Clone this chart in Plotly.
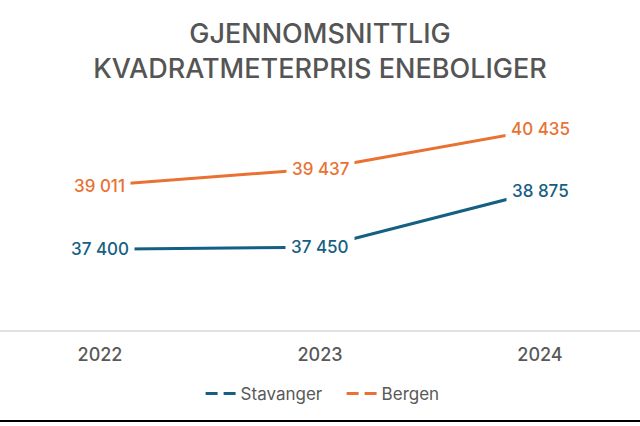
import plotly.graph_objects as go

years = ["2022", "2023", "2024"]
stavanger = [37400, 37450, 38875]
bergen = [39011, 39437, 40435]
series_names = ["Stavanger", "Bergen"]
colors = {"Stavanger": "#156082", "Bergen": "#E97132"}
title_text = "GJENNOMSNITTLIG<br>KVADRATMETERPRIS ENEBOLIGER"

data = {"Stavanger": stavanger, "Bergen": bergen}

fig = go.Figure()
annotations = []
for name in series_names:
    vals = data[name]
    fig.add_trace(go.Scatter(x=years, y=vals, mode="lines", name=name,
                             line=dict(color=colors[name], width=3),
                             showlegend=False, hoverinfo="skip"))
    for i, v in enumerate(vals):
        annotations.append(dict(x=i, y=v, xref="x", yref="y",
                                text=f"{v:,}".replace(",", " "),
                                showarrow=False, bgcolor="white", borderpad=5,
                                font=dict(family="Inter", size=17, color=colors[name],
                                          weight=500)))

# legend entries (dashed symbol as in reference)
for name in series_names:
    fig.add_trace(go.Scatter(x=[None], y=[None], mode="lines", name=name + "   ",
                             line=dict(color=colors[name], width=3, dash="12px,6px")))

fig.update_layout(
    width=640, height=426,
    margin=dict(l=0, r=0, t=100, b=95),
    paper_bgcolor="white", plot_bgcolor="white",
    title=dict(text=title_text, x=0.5, xanchor="center", y=1 - 43 / 426,
               yanchor="middle", yref="container",
               font=dict(family="Inter", size=27, color="#555555", weight=500)),
    xaxis=dict(type="category", range=[-0.4545, 2.4545], showgrid=False,
               zeroline=False, showline=False, ticks="",
               tickfont=dict(family="Inter", size=18, color="#595959", weight=500),
               ticklabelstandoff=11),
    yaxis=dict(range=[35326, 41178], visible=False, showgrid=False),
    legend=dict(orientation="h", x=0.515, xanchor="center", y=-0.273, yanchor="middle",
                font=dict(family="Inter", size=17, color="#595959"),
                itemwidth=30, tracegroupgap=0),
    annotations=annotations,
    shapes=[
        dict(type="line", xref="paper", yref="paper", x0=0, x1=1, y0=0, y1=0,
             line=dict(color="#D9D9D9", width=1.5)),
        dict(type="line", xref="paper", yref="paper", x0=0, x1=1, y0=-0.39, y1=-0.39,
             line=dict(color="#000000", width=2)),
    ],
)

fig.write_html("out.html", config={"displayModeBar": False},
               post_script="document.body.style.margin='0';")
